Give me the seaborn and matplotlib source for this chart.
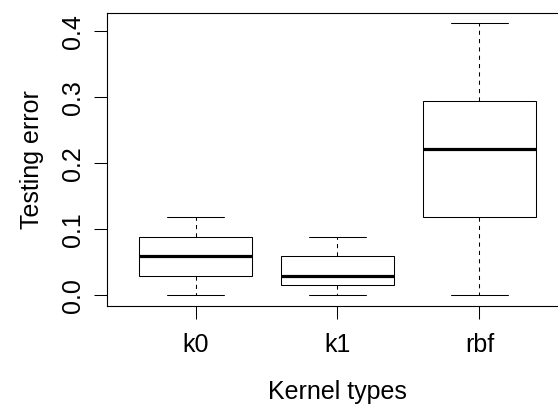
import matplotlib
matplotlib.use("Agg")
import matplotlib.pyplot as plt
import pandas as pd
import seaborn as sns

# testing error per kernel
kernels = ["k0", "k1", "rbf"]
k0_err = [0.000, 0.029, 0.059, 0.088, 0.118]
k1_err = [0.000, 0.015, 0.029, 0.059, 0.088]
rbf_err = [0.000, 0.118, 0.221, 0.294, 0.412]
y_ticks = [0.0, 0.1, 0.2, 0.3, 0.4]

sns.set_style("ticks")
plt.rcParams["font.family"] = ["Liberation Sans", "DejaVu Sans"]
plt.rcParams.update({"text.color": "black", "axes.labelcolor": "black",
                     "xtick.color": "black", "ytick.color": "black"})

df = pd.DataFrame({
    "kernel": ["k0"] * len(k0_err) + ["k1"] * len(k1_err) + ["rbf"] * len(rbf_err),
    "error": k0_err + k1_err + rbf_err,
})

fig = plt.figure(figsize=(5.58, 4.07), dpi=100)
# R-style plot region; right edge of the frame falls outside the picture
ax = fig.add_axes([107.5 / 558, (407 - 306.2) / 407, (567.4 - 107.5) / 558, (306.2 - 12.8) / 407])

sns.boxplot(data=df, x="kernel", y="error", order=kernels, ax=ax,
            color="white", linecolor="black", linewidth=0.75, width=0.8,
            fliersize=0, whis=1.5,
            whiskerprops={"linestyle": (0, (4, 4))},
            medianprops={"linewidth": 2.3, "color": "black"})

ax.set_xlim(-0.62, 2.62)
ax.set_ylim(-0.0165, 0.428)
ax.set_yticks(y_ticks)
ax.set_yticklabels([f"{t:.1f}" for t in y_ticks], rotation=90, va="center")
ax.tick_params(axis="both", length=9.4, width=0.75, labelsize=18)
ax.tick_params(axis="x", pad=10)
ax.tick_params(axis="y", pad=7)

for s in ax.spines.values():
    s.set_visible(True)
    s.set_linewidth(0.8)
    s.set_color("black")

ax.set_xlabel("Kernel types", fontsize=18, labelpad=16.5)
ax.set_ylabel("Testing error", fontsize=18, labelpad=12)

fig.savefig("out.png", dpi=100)
